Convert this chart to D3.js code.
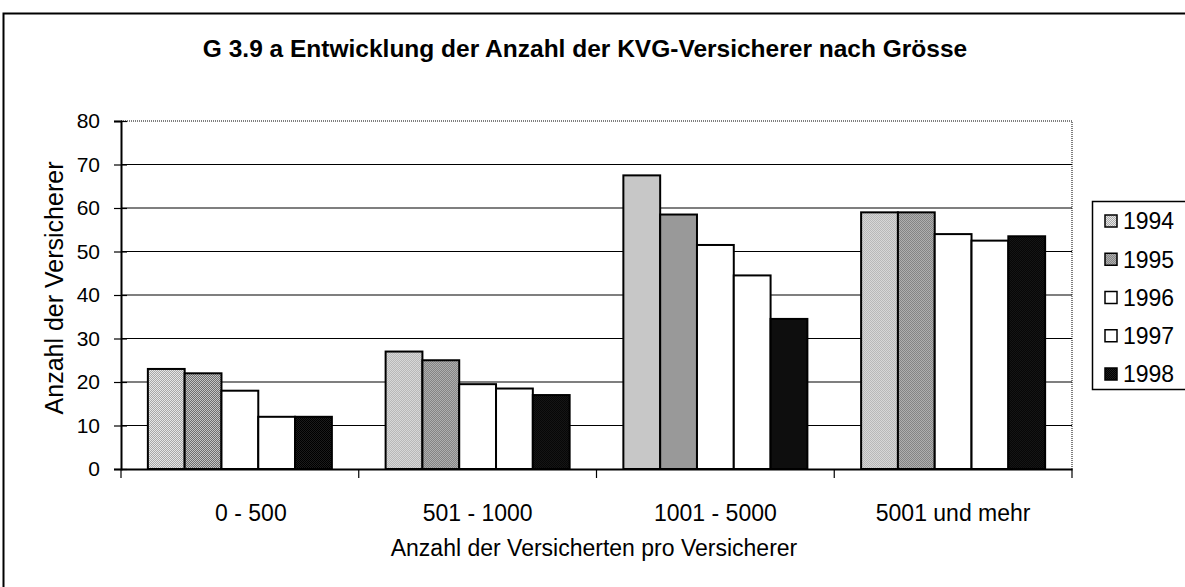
<!DOCTYPE html>
<html>
<head>
<meta charset="utf-8">
<script src="https://cdn.jsdelivr.net/npm/d3@7"></script>
<style>
  body { margin: 0; background: #fff; }
  svg { display: block; font-family: "Liberation Sans", Arial, sans-serif; }
</style>
</head>
<body>
<div id="chart"></div>
<script>
// Chart values
const categories = ["0 - 500", "501 - 1000", "1001 - 5000", "5001 und mehr"];
const years = ["1994", "1995", "1996", "1997", "1998"];
const values1994 = [23, 27, 67.5, 59];
const values1995 = [22, 25, 58.5, 59];
const values1996 = [18, 19.5, 51.5, 54];
const values1997 = [12, 18.5, 44.5, 52.5];
const values1998 = [12, 17, 34.5, 53.5];
const yTicks = [0, 10, 20, 30, 40, 50, 60, 70, 80];

const series = [values1994, values1995, values1996, values1997, values1998];
const fills = ["url(#p1994)", "url(#p1995)", "#fff", "#fff", "url(#p1998)"];

const width = 1185, height = 587;
const margin = { top: 121, right: 113, bottom: 118, left: 121 };

const svg = d3.select("#chart")
  .append("svg")
    .attr("width", width)
    .attr("height", height);

// Halftone-like fill patterns
const defs = svg.append("defs");
function checker(id, a, b) {
  const p = defs.append("pattern")
      .attr("id", id)
      .attr("width", 2).attr("height", 2)
      .attr("patternUnits", "userSpaceOnUse");
  p.append("rect").attr("width", 2).attr("height", 2).attr("fill", a);
  p.append("rect").attr("width", 1).attr("height", 1).attr("fill", b);
  p.append("rect").attr("x", 1).attr("y", 1).attr("width", 1).attr("height", 1).attr("fill", b);
}
checker("p1994", "#e6e6e6", "#a8a8a8");
checker("p1995", "#c4c4c4", "#6e6e6e");
checker("p1998", "#000", "#1c1c1c");

// Outer frame
svg.append("rect")
    .attr("x", 3.5).attr("y", 13.5)
    .attr("width", width + 20).attr("height", height + 20)
    .attr("fill", "none")
    .attr("stroke", "#000")
    .attr("stroke-width", 2);

// Title
svg.append("text")
    .attr("x", 585).attr("y", 57)
    .attr("text-anchor", "middle")
    .attr("font-size", 24.5)
    .attr("font-weight", "bold")
    .text("G 3.9 a Entwicklung der Anzahl der KVG-Versicherer nach Grösse");

const x0 = d3.scaleBand()
  .domain(categories)
  .range([margin.left, width - margin.right])
  .padding(0);

const x1 = d3.scaleBand()
  .domain(years)
  .range([0, x0.bandwidth()])
  .paddingInner(0)
  .paddingOuter(0.73);

const y = d3.scaleLinear()
  .domain([0, 80])
  .range([height - margin.bottom, margin.top]);

// Plot area border (dotted top and right)
svg.append("path")
    .attr("d", `M${margin.left},${y(80)}H${width - margin.right}V${y(0)}`)
    .attr("fill", "none")
    .attr("stroke", "#555")
    .attr("stroke-width", 1.5)
    .attr("stroke-dasharray", "1,1");

// Gridlines
svg.append("g")
  .selectAll("line")
  .data(yTicks.filter(d => d > 0 && d < 80))
  .join("line")
    .attr("x1", margin.left).attr("x2", width - margin.right)
    .attr("y1", d => y(d)).attr("y2", d => y(d))
    .attr("stroke", "#000")
    .attr("stroke-width", 1.2);

// Bars
svg.append("g")
  .selectAll("g")
  .data(categories)
  .join("g")
    .attr("transform", d => `translate(${x0(d)},0)`)
  .selectAll("rect")
  .data((d, i) => years.map((yr, j) => ({ year: yr, value: series[j][i], j })))
  .join("rect")
    .attr("x", d => x1(d.year))
    .attr("y", d => y(d.value))
    .attr("width", x1.bandwidth())
    .attr("height", d => y(0) - y(d.value))
    .attr("fill", d => fills[d.j])
    .attr("stroke", "#000")
    .attr("stroke-width", 2);

// Y axis
const yAxis = svg.append("g")
    .attr("transform", `translate(${margin.left},0)`)
    .call(d3.axisLeft(y).tickValues(yTicks).tickSize(7).tickPadding(14));
yAxis.select(".domain").attr("stroke-width", 2);
yAxis.selectAll(".tick line").attr("x2", 6).attr("x1", -7).attr("stroke-width", 1.2);
yAxis.selectAll(".tick text")
    .attr("font-size", 21)
    .attr("font-family", "Liberation Sans, Arial, sans-serif")
    .attr("fill", "#000");

// X axis
const xAxis = svg.append("g")
    .attr("transform", `translate(0,${y(0)})`)
    .call(d3.axisBottom(x0).tickSize(0).tickPadding(36));
xAxis.select(".domain").attr("stroke-width", 2);
xAxis.selectAll(".tick text")
    .attr("font-size", 23)
    .attr("font-family", "Liberation Sans, Arial, sans-serif")
    .attr("fill", "#000")
    .attr("dx", (d, i) => i === 0 ? 11 : 0);
xAxis.selectAll(".sep")
  .data(d3.range(categories.length + 1))
  .join("line")
    .attr("class", "sep")
    .attr("x1", i => margin.left + i * x0.step())
    .attr("x2", i => margin.left + i * x0.step())
    .attr("y1", 0).attr("y2", 9)
    .attr("stroke", "#000")
    .attr("stroke-width", 1.2);

// Axis titles
svg.append("text")
    .attr("x", 594).attr("y", 556)
    .attr("text-anchor", "middle")
    .attr("font-size", 23)
    .text("Anzahl der Versicherten pro Versicherer");

svg.append("text")
    .attr("transform", "translate(63,288) rotate(-90)")
    .attr("text-anchor", "middle")
    .attr("font-size", 25)
    .text("Anzahl der Versicherer");

// Legend
const legend = svg.append("g");
legend.append("rect")
    .attr("x", 1092.5).attr("y", 201.5)
    .attr("width", 120).attr("height", 188)
    .attr("fill", "#fff")
    .attr("stroke", "#000")
    .attr("stroke-width", 1.5);

const legendY = d3.scalePoint()
  .domain(years)
  .range([221, 374]);

const item = legend.selectAll(".item")
  .data(years)
  .join("g")
    .attr("class", "item")
    .attr("transform", d => `translate(0,${legendY(d)})`);
item.append("rect")
    .attr("x", 1105).attr("y", -6)
    .attr("width", 12).attr("height", 12)
    .attr("fill", (d, i) => fills[i])
    .attr("stroke", "#000")
    .attr("stroke-width", 1.5);
item.append("text")
    .attr("x", 1123).attr("dy", "0.36em")
    .attr("font-size", 23)
    .text(d => d);
</script>
</body>
</html>
